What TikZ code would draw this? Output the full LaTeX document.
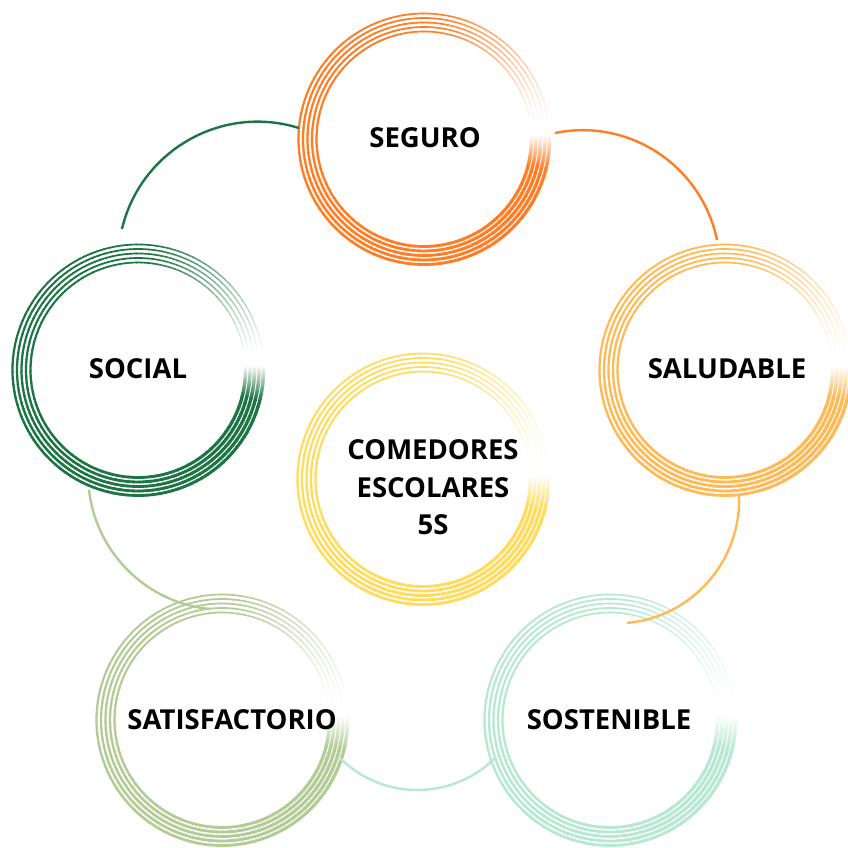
\documentclass[tikz,border=0pt]{standalone}
\usepackage{fontspec}
\setmainfont{Open Sans}

\definecolor{cSeguro}{HTML}{FF7D24}
\definecolor{cSaludable}{HTML}{FFB955}
\definecolor{cSocial}{HTML}{1D7444}
\definecolor{cCentro}{HTML}{FFDC5E}
\definecolor{cSatisf}{HTML}{B3CB95}
\definecolor{cSostenible}{HTML}{B6E8D2}

% One piece of a ring: #1 hub, #2 colour, #3 radius, #4 degrees already
% travelled (clockwise from the start just below east), #5 piece length.
\newcommand\ringpiece[5]{%
  \pgfmathsetmacro\rgA{2-#4}%
  \pgfmathsetmacro\rgB{\rgA-#5-(#4+#5<359.9)*0.5}%
  \pgfmathsetmacro\rgT{(#4+#5/2)/360}%
  \pgfmathsetmacro\rgW{3.4-2.3*\rgT}%
  \pgfmathtruncatemacro\rgP{max(0,min(100,min(\rgT/0.045*100,(0.985-\rgT)/0.21*100)))}%
  \draw[line width=\rgW pt, draw=#2!\rgP!white]
    (#1.center) ++(\rgA:#3 pt) arc[start angle=\rgA, end angle=\rgB, radius=#3 pt];
}

% Five concentric brush-like rings around a hub node: the stroke fades in just
% below east, runs clockwise, thins out and fades to white before closing.
\newcommand\drawrings[2]{%
  \foreach \k in {0,...,4}{%
    \pgfmathsetmacro\rgR{125.5-4.5*\k}%
    \foreach \s in {0,...,15}{\ringpiece{#1}{#2}{\rgR}{\s}{1}}%
    \foreach \s in {0,...,113}{%
      \pgfmathsetmacro\rgU{16+3*\s}%
      \ringpiece{#1}{#2}{\rgR}{\rgU}{3}}%
    \foreach \s in {0,1}{%
      \pgfmathsetmacro\rgU{358+\s}%
      \ringpiece{#1}{#2}{\rgR}{\rgU}{1}}%
  }%
}

\begin{document}
\begin{tikzpicture}[x=1pt,y=1pt,
  hub/.style={circle, minimum size=254pt, inner sep=0pt, outer sep=0pt},
  caption/.style={font=\fontsize{27.5}{37.5}\selectfont\bfseries, text=black,
                  inner sep=0pt, align=center},
  link/.style={line width=2.4pt}]

\useasboundingbox[fill=white] (0,0) rectangle (848,848);

% hubs
\node[hub] (seguro)     at (424,709) {};
\node[hub] (saludable)  at (725,478) {};
\node[hub] (social)     at (138,478) {};
\node[hub] (centro)     at (423,369) {};
\node[hub] (satisf)     at (222,128) {};
\node[hub] (sostenible) at (610,128) {};

\drawrings{seguro}{cSeguro}
\drawrings{saludable}{cSaludable}
\drawrings{social}{cSocial}
\drawrings{centro}{cCentro}
\drawrings{satisf}{cSatisf}
\drawrings{sostenible}{cSostenible}

% connector end points
\coordinate (l1a) at ([shift={(96.5:141.9pt)}]social.center);
\coordinate (l1b) at ([shift={(175:125.5pt)}]seguro.center);
\coordinate (l2a) at ([shift={(2.6:131.1pt)}]seguro.center);
\coordinate (l2b) at ([shift={(93.5:130.2pt)}]saludable.center);
\coordinate (l3a) at ([shift={(-83.6:125.8pt)}]saludable.center);
\coordinate (l3b) at ([shift={(80.1:98.5pt)}]sostenible.center);
\coordinate (l4a) at ([shift={(198.3:121.1pt)}]sostenible.center);
\coordinate (l4b) at ([shift={(-17.9:124pt)}]satisf.center);
\coordinate (l5a) at ([shift={(247.8:129.6pt)}]social.center);
\coordinate (l5b) at ([shift={(96.2:111.6pt)}]satisf.center);

% connectors between the hubs
\draw[link, cSocial]     (l1a) to[out=76.7,  in=162.5, looseness=1.013] (l1b);
\draw[link, cSeguro]     (l2a) to[out=11.7,  in=101.8] (l2b);
\draw[link, cSaludable]  (l3a) to[out=-87.7, in=5.1,   looseness=0.988] (l3b);
\draw[link, cSostenible] (l4a) to[out=-135.2,in=-44.8] (l4b);
\draw[link, cSatisf]     (l5a) to[out=-83.6, in=174.5, looseness=0.958] (l5b);

% captions
\node[caption] (t-seguro)     at (425,710)   {SEGURO};
\node[caption] (t-saludable)  at (727,479)   {SALUDABLE};
\node[caption] (t-social)     at (138,479)   {SOCIAL};
\node[caption] (t-satisf)     at (232,128)   {SATISFACTORIO};
\node[caption] (t-sostenible) at (609,128)   {SOSTENIBLE};
\node[caption] (t-centro)     at (433,360.5) {COMEDORES\\ESCOLARES\hspace*{0.27em}\\5S};

\end{tikzpicture}
\end{document}
